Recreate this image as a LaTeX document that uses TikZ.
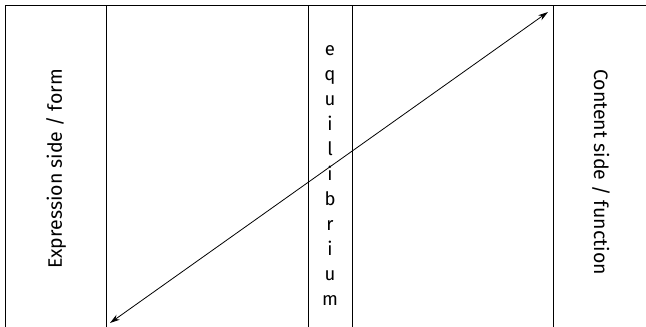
\documentclass[tikz,border=0pt]{standalone}
\usepackage{fontspec}
\setmainfont{Fira Sans}
\usetikzlibrary{arrows.meta}

\begin{document}
\begin{tikzpicture}[x=1pt, y=-1pt, >={Stealth[length=10pt,width=6pt]}, line width=0.8pt,
    font=\fontsize{18.5}{25}\selectfont]
   \path[use as bounding box] (0,0) rectangle (646,327); % keep the page at the reference size
   % top rule and the column dividers, open at the bottom and right
   \draw (5,5) -- (646,5);
   \foreach \x in {5,106,308,352,553}
      \draw (\x,5) -- (\x,327);

   \node[rotate=90, font=\fontsize{19.5}{25}\selectfont] (expr) at (56,169) {Expression side / form};
   \node[rotate=-90, font=\fontsize{19.5}{25}\selectfont] (cont) at (601,172) {Content side / function};
   \node[align=center, inner sep=0pt] (equi) at (330,176)
      {e\\q\\u\\i\\l\\i\\b\\r\\i\\u\\m};

   \coordinate (lo) at (110,323);
   \coordinate (hi) at (548,12);
   \draw[<->] (lo) -- (hi);
\end{tikzpicture}
\end{document}
